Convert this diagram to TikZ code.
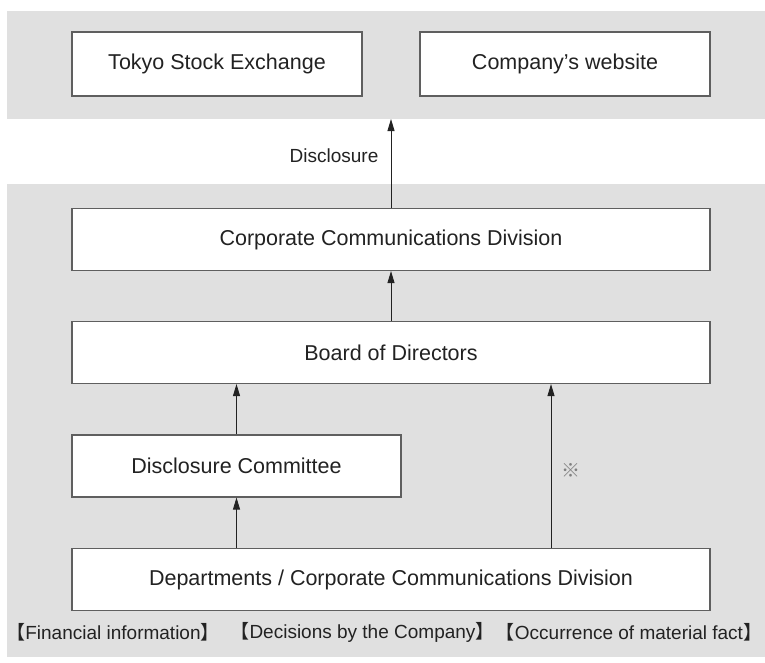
\documentclass[tikz,border=0pt]{standalone}
\usepackage{fontspec}
\setmainfont{Liberation Sans}
\newfontfamily\jpfont{Noto Sans CJK JP}
\usetikzlibrary{arrows.meta,calc}
\definecolor{bandgray}{RGB}{224,224,224}
\definecolor{edgegray}{RGB}{95,95,95}
\definecolor{inkgray}{RGB}{34,34,34}
\tikzset{>={Triangle[length=12pt,width=7pt]}}
\tikzset{unit/.style={draw=edgegray,line width=1.1pt,fill=white,inner sep=0pt,
    minimum height=62pt,text=inkgray,font=\fontsize{21.5}{24}\selectfont},
  flow/.style={->,draw=inkgray,line width=0.9pt},
  tag/.style={text=inkgray,inner sep=0pt,font=\fontsize{19}{22}\selectfont}}

\begin{document}
\begin{tikzpicture}[x=1pt,y=-1pt]
\useasboundingbox (0,0) rectangle (765,662);
% background bands
\fill[bandgray] (7,11) rectangle (765,119);
\fill[bandgray] (7,184) rectangle (765,657);
% boxes
\node[unit,minimum width=290pt,minimum height=64pt] (tse) at (217,64) {Tokyo Stock Exchange};
\node[unit,minimum width=290pt,minimum height=64pt] (web) at (565,64) {Company’s website};
\node[unit,minimum width=638pt] (ccd) at (391,239.5) {Corporate Communications Division};
\node[unit,minimum width=638pt] (bod) at (391,352.5) {Board of Directors};
\node[unit,minimum width=329pt] (dc) at (236.5,466) {Disclosure Committee};
\node[unit,minimum width=638pt] (dep) at (391,579.5) {Departments / Corporate Communications Division};
\coordinate (band) at (391,119);
\coordinate (side) at (551,0);
% arrows
\draw[flow] (ccd.north) -- (band);
\node[tag,font=\fontsize{19}{22}\selectfont] (dis) at (334,156) {Disclosure};
\draw[flow] (bod.north) -- (ccd.south);
\draw[flow] (dc.north) -- (dc.north |- bod.south);
\draw[flow] (dep.north -| dc.north) -- (dc.south);
\draw[flow] (side |- dep.north) -- (side |- bod.south);
\node[text=gray,font=\jpfont\fontsize{19}{21}\selectfont] (note) at (571,470) {※};
% categories
\node[tag] (fin) at (113,632) {{\jpfont 【}Financial information{\jpfont 】}};
\node[tag] (dec) at (362.5,632) {{\jpfont 【}Decisions by the Company{\jpfont 】}};
\node[tag] (occ) at (629,632) {{\jpfont 【}Occurrence of material fact{\jpfont 】}};
\end{tikzpicture}
\end{document}
